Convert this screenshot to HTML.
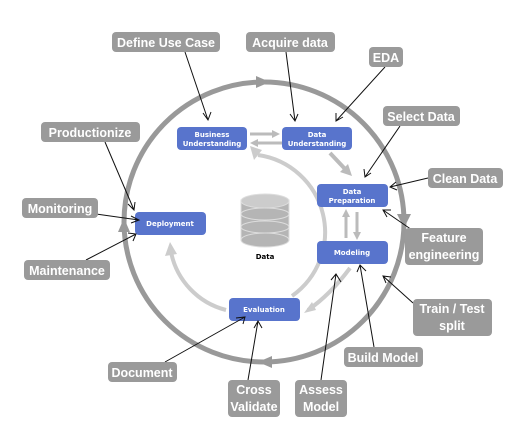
<!DOCTYPE html>
<html><head><style>
body{margin:0;background:#fff;width:529px;height:435px;overflow:hidden}
svg{display:block}
.l{fill:#9a9a9a}
.lt{font-family:"Liberation Sans",sans-serif;font-weight:bold;font-size:12.5px;fill:#fff;text-anchor:middle}
.b{fill:#5874cc}
.bt{font-family:"DejaVu Sans",sans-serif;font-weight:bold;font-size:7px;fill:#fff;text-anchor:middle}
.k{stroke:#111;stroke-width:1;fill:none}
</style></head><body>
<svg width="529" height="435" viewBox="0 0 529 435">
<!-- outer circle -->
<circle cx="264" cy="222" r="140" fill="none" stroke="#999" stroke-width="5"/>
<polygon points="256,76 270,82 256,88" fill="#999"/>
<polygon points="404,228 397,214 411,214" fill="#999"/>
<polygon points="272,356 258,362 272,368" fill="#999"/>
<polygon points="124,218 118,232 130,232" fill="#999"/>
<!-- inner arcs -->
<path d="M292,296 A78,78 0 0 0 258,155" fill="none" stroke="#ccc" stroke-width="4"/>
<polygon points="250,146 262,150 254,160" fill="#ccc"/>
<path d="M226,310 A75,75 0 0 1 171,252" fill="none" stroke="#ccc" stroke-width="4"/>
<polygon points="170,242 165,256 177,254" fill="#ccc"/>
<!-- small arrows -->
<path d="M250,134 L275,134 M255,143 L282,143" stroke="#bbb" stroke-width="3"/>
<polygon points="280,134 272,130 272,138" fill="#bbb"/><polygon points="250,143 258,139 258,147" fill="#bbb"/>
<path d="M330,153 L346,170" stroke="#bbb" stroke-width="4"/><polygon points="352,176 340,172 348,164" fill="#bbb"/>
<path d="M346,214 L346,238 M357,212 L357,234" stroke="#bbb" stroke-width="3"/>
<polygon points="346,209 342,217 350,217" fill="#bbb"/><polygon points="357,240 353,232 361,232" fill="#bbb"/>
<path d="M350,268 Q330,295 308,310" fill="none" stroke="#ccc" stroke-width="4"/><polygon points="304,313 312,302 316,310" fill="#ccc"/>
<!-- database -->
<g fill="#b5b5b5" stroke="#ddd"><rect x="241" y="200" width="48" height="40" /><ellipse cx="265" cy="240" rx="24" ry="7"/><ellipse cx="265" cy="227" rx="24" ry="6"/><ellipse cx="265" cy="214" rx="24" ry="6"/><ellipse cx="265" cy="201" rx="24" ry="7" fill="#ccc"/></g>
<text x="265" y="259" font-family="DejaVu Sans,sans-serif" font-weight="bold" font-size="7" text-anchor="middle">Data</text>
<!-- boxes -->
<rect class="b" x="177" y="127" width="70" height="23" rx="4"/><text class="bt" x="212" y="137">Business</text><text class="bt" x="212" y="146">Understanding</text>
<rect class="b" x="282" y="127" width="70" height="23" rx="4"/><text class="bt" x="317" y="137">Data</text><text class="bt" x="317" y="146">Understanding</text>
<rect class="b" x="317" y="184" width="71" height="23" rx="4"/><text class="bt" x="352" y="194">Data</text><text class="bt" x="352" y="203">Preparation</text>
<rect class="b" x="317" y="241" width="71" height="23" rx="4"/><text class="bt" x="352" y="255">Modeling</text>
<rect class="b" x="229" y="298" width="71" height="23" rx="4"/><text class="bt" x="264" y="312">Evaluation</text>
<rect class="b" x="135" y="212" width="71" height="23" rx="4"/><text class="bt" x="170" y="226">Deployment</text>
<!-- connector lines -->
<g class="k">
<path d="M185,52 L208,120 M203,113 L208,120 L211,112"/>
<path d="M286,52 L295,121 M290,114 L295,121 L298,114"/>
<path d="M385,67 L336,121 M336,113 L336,121 L343,117"/>
<path d="M400,126 L365,177 M364,169 L365,177 L371,173"/>
<path d="M428,178 L390,187 M396,182 L390,187 L397,190"/>
<path d="M415,232 L383,210 M391,210 L383,210 L387,217"/>
<path d="M413,303 L383,276 M391,277 L383,276 L386,283"/>
<path d="M374,347 L360,265 M357,272 L360,265 L366,271"/>
<path d="M321,380 L336,274 M331,280 L336,274 L341,282"/>
<path d="M248,380 L258,321 M254,328 L258,321 L262,328"/>
<path d="M165,362 L245,317 M236,318 L245,317 L243,324"/>
<path d="M86,260 L136,234 M128,233 L136,234 L133,241"/>
<path d="M96,214 L139,220 M131,216 L139,220 L131,223"/>
<path d="M105,142 L134,210 M128,204 L134,210 L135,202"/>
</g>
<!-- labels -->
<rect class="l" x="112" y="32" width="108" height="20" rx="4"/><text class="lt" x="166" y="47">Define Use Case</text>
<rect class="l" x="246" y="32" width="89" height="20" rx="4"/><text class="lt" x="290" y="47">Acquire data</text>
<rect class="l" x="369" y="47" width="34" height="20" rx="4"/><text class="lt" x="386" y="62">EDA</text>
<rect class="l" x="383" y="106" width="77" height="20" rx="4"/><text class="lt" x="421" y="121">Select Data</text>
<rect class="l" x="428" y="168" width="75" height="20" rx="4"/><text class="lt" x="465" y="183">Clean Data</text>
<rect class="l" x="405" y="228" width="78" height="37" rx="4"/><text class="lt" x="444" y="242">Feature</text><text class="lt" x="444" y="259">engineering</text>
<rect class="l" x="413" y="299" width="79" height="37" rx="4"/><text class="lt" x="452" y="313">Train / Test</text><text class="lt" x="452" y="330">split</text>
<rect class="l" x="344" y="347" width="79" height="20" rx="4"/><text class="lt" x="383" y="362">Build Model</text>
<rect class="l" x="295" y="380" width="52" height="37" rx="4"/><text class="lt" x="321" y="394">Assess</text><text class="lt" x="321" y="411">Model</text>
<rect class="l" x="228" y="380" width="52" height="37" rx="4"/><text class="lt" x="254" y="394">Cross</text><text class="lt" x="254" y="411">Validate</text>
<rect class="l" x="108" y="362" width="69" height="20" rx="4"/><text class="lt" x="142" y="377">Document</text>
<rect class="l" x="24" y="260" width="86" height="20" rx="4"/><text class="lt" x="67" y="275">Maintenance</text>
<rect class="l" x="22" y="198" width="76" height="20" rx="4"/><text class="lt" x="60" y="213">Monitoring</text>
<rect class="l" x="41" y="122" width="99" height="20" rx="4"/><text class="lt" x="90" y="137">Productionize</text>
</svg>
</body></html>
